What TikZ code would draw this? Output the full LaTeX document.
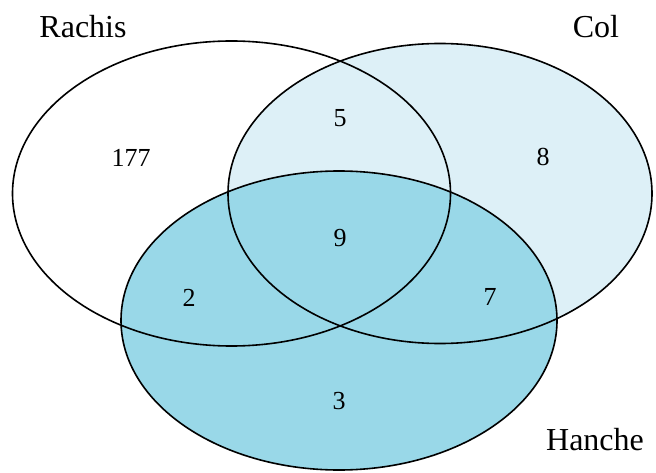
\documentclass[tikz,border=0pt]{standalone}
\usepackage{fontspec}
\setmainfont{Liberation Serif}
\usetikzlibrary{shapes.geometric}
\definecolor{colfill}{RGB}{221,240,247}
\definecolor{hanchefill}{RGB}{153,216,232}
\tikzset{
  setshape/.style={ellipse, inner sep=0pt, outer sep=0pt, line width=1.6pt},
  lbl/.style={font=\fontsize{26}{28}\selectfont, inner sep=0pt},
  title/.style={font=\fontsize{32}{34}\selectfont, inner sep=0pt},
}
\begin{document}
\begin{tikzpicture}[x=1pt,y=-1pt]
\useasboundingbox (0,0) rectangle (656,473);
% fills
\fill[colfill] (440,193.5) ellipse [x radius=212, y radius=150];
\fill[hanchefill] (339,320.5) ellipse [x radius=218, y radius=149.5];
% outlines
\node[setshape, draw, minimum width=438pt, minimum height=305pt] (rachis) at (231.5,193.5) {};
\node[setshape, draw, minimum width=424pt, minimum height=300pt] (col) at (440,193.5) {};
\node[setshape, draw, minimum width=436pt, minimum height=299pt] (hanche) at (339,320.5) {};
% labels
\node[title] (lrachis) at (83,27) {Rachis};
\node[title] (lcol) at (596,27) {Col};
\node[title] (lhanche) at (595,440) {Hanche};
\node[lbl] (n177) at (131,158) {177};
\node[lbl] (n5) at (340,118) {5};
\node[lbl] (n8) at (543,157) {8};
\node[lbl] (n9) at (340,238) {9};
\node[lbl] (n2) at (189,298) {2};
\node[lbl] (n7) at (490,297) {7};
\node[lbl] (n3) at (339,401) {3};
\end{tikzpicture}
\end{document}
